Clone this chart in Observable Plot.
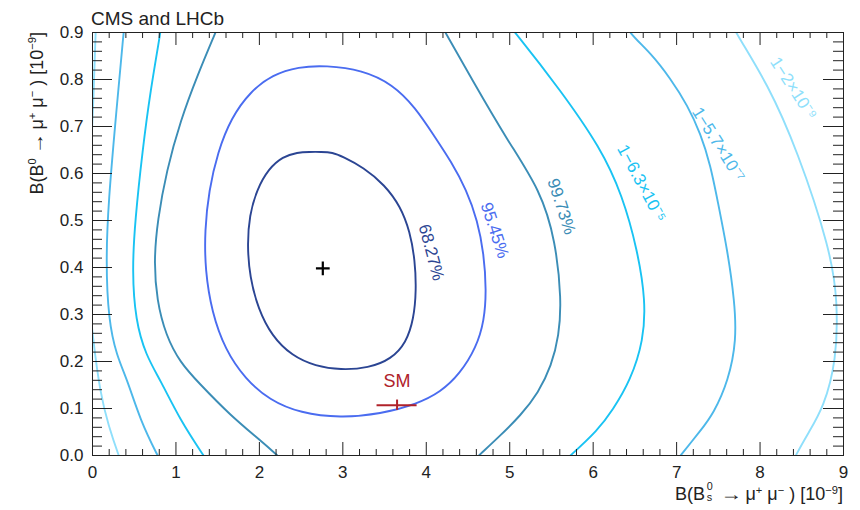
<!DOCTYPE html>
<html>
<head>
<meta charset="utf-8">
<script src="https://cdn.jsdelivr.net/npm/d3@7"></script>
<script src="https://cdn.jsdelivr.net/npm/@observablehq/plot@0.6"></script>
<style>
  body { margin: 0; background: #fff; }
  #wrap { position: relative; width: 860px; height: 510px; font-family: "Liberation Sans", Arial, sans-serif; color: #222; }
  .t { position: absolute; white-space: nowrap; line-height: 1; }
  sup { font-size: 0.62em; line-height: 0; vertical-align: 0.55em; }
  .ar { display: inline-block; margin: 0 0.3em; transform: scaleX(1.2); }
  .ss { position: relative; display: inline-block; width: 0.55em; height: 1em; margin-left: 0.1em; }
  .ss .u { position: absolute; left: 0; top: -0.1em; font-size: 0.6em; line-height: 1; }
  .ss .d { position: absolute; left: 0; top: 0.9em; font-size: 0.6em; line-height: 1; }
</style>
</head>
<body>
<div id="wrap">
  <div id="chart"></div>
  <div class="t" style="left:91px; top:9px; font-size:19px;">CMS and LHCb</div>
  <div class="t" style="right:17px; top:482px; font-size:18px;">B(B<span class="ss"><span class="u">0</span><span class="d">s</span></span><span class="ar">→</span>μ<sup>+</sup> μ<sup>−</sup> ) [10<sup>−9</sup>]</div>
  <div class="t" style="right:832px; top:32px; font-size:18px; transform-origin: 100% 0; transform: rotate(-90deg);">B(B<sup>0</sup><span class="ar">→</span>μ<sup>+</sup> μ<sup>−</sup> ) [10<sup>−9</sup>]</div>
</div>
<script>
// ---- tick labels ----
const xTicks = [0, 1, 2, 3, 4, 5, 6, 7, 8, 9];
const yTicks = [0, 0.1, 0.2, 0.3, 0.4, 0.5, 0.6, 0.7, 0.8, 0.9];
const xMinor = d3.range(0, 9.001, 0.2).filter(v => Math.abs(v - Math.round(v)) > 1e-6);
const yMinor = d3.range(0, 0.9001, 0.02).filter(v => Math.abs(v * 10 - Math.round(v * 10)) > 1e-6);

// ---- contour lines (x = B(Bs->mumu), y = B(B0->mumu), both in 1e-9) ----
const c6827 = [[2.457,0.645],[2.600,0.646],[2.740,0.646],[2.876,0.645],[2.996,0.636],[3.248,0.613],[3.500,0.576],[3.691,0.530],[3.805,0.476],[3.865,0.415],[3.880,0.351],[3.850,0.291],[3.760,0.240],[3.580,0.205],[3.308,0.186],[2.972,0.182],[2.673,0.190],[2.390,0.212],[2.150,0.254],[1.985,0.312],[1.885,0.380],[1.855,0.447],[1.880,0.511],[1.970,0.566],[2.110,0.610],[2.280,0.636]];
const c9545 = [[2.792,0.830],[3.236,0.820],[3.595,0.790],[3.871,0.740],[4.090,0.681],[4.300,0.625],[4.482,0.565],[4.614,0.500],[4.690,0.430],[4.720,0.351],[4.695,0.287],[4.600,0.230],[4.400,0.173],[4.171,0.135],[3.895,0.110],[3.452,0.088],[2.972,0.080],[2.493,0.090],[2.120,0.118],[1.830,0.163],[1.590,0.225],[1.430,0.305],[1.350,0.394],[1.345,0.479],[1.395,0.564],[1.500,0.645],[1.660,0.718],[1.894,0.775],[2.157,0.810],[2.469,0.827]];
const c9973L = [[1.558,0.936],[1.474,0.900],[1.258,0.809],[1.055,0.713],[0.887,0.606],[0.779,0.500],[0.736,0.415],[0.770,0.330],[0.880,0.255],[1.050,0.198],[1.270,0.155],[1.654,0.085],[2.013,0.032],[2.217,0.000],[2.409,-0.032]];
const c9973R = [[4.111,0.936],[4.231,0.900],[4.554,0.798],[4.974,0.670],[5.369,0.564],[5.549,0.457],[5.621,0.330],[5.590,0.255],[5.500,0.191],[5.345,0.134],[5.130,0.085],[4.890,0.043],[4.630,0.000],[4.440,-0.032]];
const c63e5L = [[0.839,0.936],[0.815,0.900],[0.695,0.777],[0.599,0.649],[0.510,0.500],[0.475,0.394],[0.515,0.287],[0.640,0.213],[0.815,0.160],[1.055,0.074],[1.330,0.000],[1.450,-0.032]];
const c63e5R = [[4.890,0.936],[5.069,0.900],[5.609,0.777],[6.088,0.655],[6.352,0.553],[6.532,0.436],[6.628,0.330],[6.604,0.245],[6.448,0.160],[6.232,0.096],[6.052,0.053],[5.729,0.000],[5.525,-0.032]];
const c57e7L = [[0.395,0.936],[0.372,0.900],[0.276,0.713],[0.192,0.543],[0.160,0.415],[0.192,0.287],[0.288,0.213],[0.419,0.160],[0.575,0.074],[0.779,0.000],[0.875,-0.032]];
const c57e7R = [[6.328,0.936],[6.424,0.900],[6.687,0.857],[6.927,0.802],[7.131,0.745],[7.287,0.685],[7.407,0.617],[7.490,0.543],[7.610,0.436],[7.694,0.330],[7.718,0.245],[7.622,0.160],[7.442,0.089],[7.287,0.053],[7.047,0.000],[6.903,-0.032]];
const c2e9L = [[0.048,0.936],[0.036,0.900],[0.012,0.755],[-0.024,0.628],[-0.060,0.479],[-0.048,0.351],[0.000,0.255],[0.096,0.128],[0.192,0.064],[0.312,0.000],[0.384,-0.032]];
const c2e9R = [[7.610,0.936],[7.706,0.900],[8.090,0.791],[8.449,0.649],[8.845,0.436],[8.929,0.330],[8.917,0.202],[8.761,0.102],[8.581,0.049],[8.425,0.000],[8.341,-0.032]];

const levelNames = ["68.27%", "95.45%", "99.73%", "1−6.3×10⁻⁵", "1−5.7×10⁻⁷", "1−2×10⁻⁹"];
const levelColors = ["#2b4593", "#4a6cf0", "#3b8db6", "#19c3f3", "#4db8ea", "#8fdffb"];
const labelX = [4.06, 4.82, 5.62, 6.58, 7.50, 8.40];
const labelY = [0.432, 0.479, 0.530, 0.579, 0.662, 0.781];
const labelAngle = [75, 72, 72, 62, 58, 57];

const bestFit = [2.76, 0.398];
const smX = 3.65, smXerr = 0.24, smY = 0.107, smYerr = 0.011;

// ---- build tables ----
const closedSets = [[c6827, 0], [c9545, 1]];
const openSets = [[c9973L, 2], [c9973R, 2], [c63e5L, 3], [c63e5R, 3], [c57e7L, 4], [c57e7R, 4], [c2e9L, 5], [c2e9R, 5]];
const toRows = sets => sets.flatMap(([pts, lvl], i) => pts.map(([x, y]) => ({x, y, id: i, color: levelColors[lvl]})));
const closedRows = toRows(closedSets);
const openRows = toRows(openSets);
const labels = levelNames.map((t, i) => ({t, x: labelX[i], y: labelY[i], a: labelAngle[i], color: levelColors[i]}));

const W = 860, H = 510, mL = 92, mR = 17, mT = 32, mB = 55;
const iw = W - mL - mR, ih = H - mT - mB;
const tickColor = "#222";

const chart = Plot.plot({
  width: W, height: H,
  marginLeft: mL, marginRight: mR, marginTop: mT, marginBottom: mB,
  style: {fontFamily: "'Liberation Sans', Arial, sans-serif", fontSize: "17px", color: "#222", background: "#fff"},
  x: {domain: [0, 9], label: null},
  y: {domain: [0, 0.9], label: null},
  color: {type: "identity"},
  marks: [
    Plot.line(openRows, {x: "x", y: "y", z: "id", stroke: "color", strokeWidth: 1.9, curve: "basis", clip: true}),
    Plot.line(closedRows, {x: "x", y: "y", z: "id", stroke: "color", strokeWidth: 1.9, curve: "basis-closed", clip: true}),
    Plot.text(labels, {x: "x", y: "y", text: "t", rotate: "a", fill: "color", fontSize: 17}),
    Plot.dot([bestFit], {x: d => d[0], y: d => d[1], symbol: "plus", r: 4.5, stroke: "#000", strokeWidth: 2.2}),
    Plot.ruleY([0], {y: () => smY, x1: () => smX - smXerr, x2: () => smX + smXerr, stroke: "#b0222a", strokeWidth: 2}),
    Plot.ruleX([0], {x: () => smX, y1: () => smY - smYerr, y2: () => smY + smYerr, stroke: "#b0222a", strokeWidth: 2}),
    Plot.text(["SM"], {x: () => smX, y: () => smY + 0.05, text: d => d, fill: "#b0222a", fontSize: 18}),
    // ticks (ROOT style, inside the frame)
    Plot.tickX(xTicks, {x: d => d, insetTop: ih - 13, stroke: tickColor}),
    Plot.tickX(xMinor, {x: d => d, insetTop: ih - 6, stroke: tickColor}),
    Plot.tickX(xTicks, {x: d => d, insetBottom: ih - 13, stroke: tickColor}),
    Plot.tickX(xMinor, {x: d => d, insetBottom: ih - 6, stroke: tickColor}),
    Plot.tickY(yTicks, {y: d => d, insetRight: iw - 20, stroke: tickColor}),
    Plot.tickY(yMinor, {y: d => d, insetRight: iw - 10, stroke: tickColor}),
    Plot.tickY(yTicks, {y: d => d, insetLeft: iw - 20, stroke: tickColor}),
    Plot.tickY(yMinor, {y: d => d, insetLeft: iw - 10, stroke: tickColor}),
    Plot.axisX({ticks: xTicks, tickSize: 0, tickPadding: 10, anchor: "bottom", label: null, fontSize: 17}),
    Plot.axisY({ticks: yTicks, tickSize: 0, tickPadding: 9, anchor: "left", label: null, fontSize: 17}),
    Plot.frame({stroke: "#222", strokeWidth: 1})
  ]
});
document.getElementById("chart").appendChild(chart);
</script>
</body>
</html>
